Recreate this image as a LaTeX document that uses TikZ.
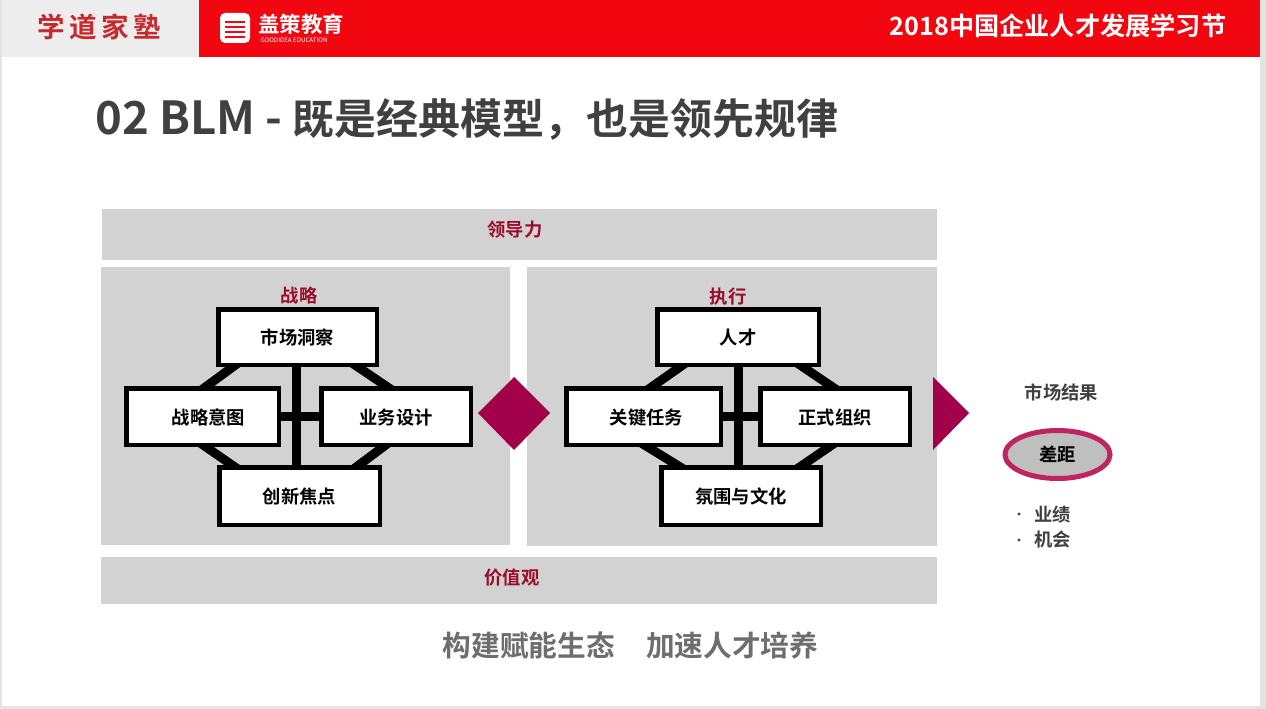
\documentclass[tikz,border=0pt]{standalone}
\usepackage{fontspec}
\setmainfont{Noto Sans CJK SC}[BoldFont={Noto Sans CJK SC Bold}]
\usetikzlibrary{calc, backgrounds, shapes.geometric}

\definecolor{pageColour}{HTML}{E3E3E3}
\definecolor{bannerColour}{HTML}{F2060F}
\definecolor{tabColour}{HTML}{EDEDED}
\definecolor{logoColour}{HTML}{C9282D}
\definecolor{panelColour}{HTML}{D2D2D2}
\definecolor{titleColour}{HTML}{404040}
\definecolor{headColour}{HTML}{9A0C2A}
\definecolor{markColour}{HTML}{A2004A}
\definecolor{ringColour}{HTML}{C0245F}
\definecolor{gapColour}{HTML}{BFBFBF}
\definecolor{sloganColour}{HTML}{6E6E6E}

\tikzset{
    head/.style={font=\bfseries\fontsize{18.3}{18.3}\selectfont, text=headColour, inner sep=0pt},
    itembox/.style={draw=black, fill=white, line width=4.5pt, inner sep=0pt, text depth=0pt, font=\bfseries\fontsize{18.3}{18.3}\selectfont, text=black},
    spoke/.style={line width=9pt, draw=black},
    sidetext/.style={font=\bfseries\fontsize{18.3}{18.3}\selectfont, text=titleColour, inner sep=0pt}
}

\begin{document}
\begin{tikzpicture}[x=1pt, y=-1pt]
    \useasboundingbox (0,0) rectangle (1266,709);

    % Page and panels
    \begin{scope}[on background layer]
        \fill[pageColour] (0,0) rectangle (1266,709);
        \fill[white] (1.5,0) rectangle (1260,706);
        \fill[panelColour] (102,209) rectangle (937,260);
        \fill[panelColour] (101,267) rectangle (510,545);
        \fill[panelColour] (527,267) rectangle (937,546);
        \fill[panelColour] (101,557) rectangle (937,604);
    \end{scope}

    % Banner
    \fill[tabColour] (1.5,0) rectangle (199,57);
    \fill[bannerColour] (199,0) rectangle (1260,57);
    \fill[white, rounded corners=5pt] (220,13) rectangle (250,43);
    \foreach \y in {22,27,32,37}
        \draw[bannerColour, line width=1.6pt] (225,\y) -- (245,\y);

    \node (school) at (99,27) {\bfseries\fontsize{27.5}{27.5}\selectfont\color{logoColour}学\,道\,家\,塾};
    \node (brand) at (301,24.5) {\bfseries\fontsize{21.5}{21.5}\selectfont\color{white}盖策教育};
    \node (brandEn) at (294,40) {\fontsize{6.2}{6.2}\selectfont\color{white}GOODIDEA EDUCATION};
    \node (festival) at (1058,26) {\bfseries\fontsize{25.2}{25.2}\selectfont\color{white}2018中国企业人才发展学习节};

    % Title
    \node[anchor=west, inner sep=0pt] (title) at (95,119) {\bfseries\color{titleColour}\fontsize{45.5}{45.5}\selectfont 02 BLM - \fontsize{42}{42}\selectfont 既是经典模型，也是领先规律};

    \node[head] (leadership) at (515,230) {领导力};
    \node[head] (strategy) at (299,296) {战略};
    \node[head] (execution) at (728,297) {执行};
    \node[head] (values) at (512,578) {价值观};

    % Strategy boxes
    \node[itembox, minimum width=158.5pt, minimum height=55.5pt] (insight) at (297.5,337) {市场洞察};
    \node[itembox, minimum width=152.5pt, minimum height=56.5pt] (intent) at (202.5,416.5) {\hspace*{12pt}战略意图};
    \node[itembox, minimum width=149.5pt, minimum height=56.5pt] (design) at (396,416.5) {业务设计};
    \node[itembox, minimum width=160.5pt, minimum height=57.5pt] (focus) at (299.5,496) {创新焦点};

    % Execution boxes
    \node[itembox, minimum width=161.5pt, minimum height=55.5pt] (talent) at (738,337) {人才};
    \node[itembox, minimum width=154.5pt, minimum height=56.5pt] (task) at (643.5,416.5) {\hspace*{6pt}关键任务};
    \node[itembox, minimum width=149.5pt, minimum height=56.5pt] (organ) at (835,416.5) {正式组织};
    \node[itembox, minimum width=159.5pt, minimum height=57.5pt] (culture) at (741,496) {氛围与文化};

    % Spokes behind the boxes
    \begin{scope}[on background layer]
        \draw[spoke] ($(insight.south west)+(23.5,-5)$) -- ($(intent.north west)+(76,5)$);
        \draw[spoke] ($(insight.south east)+(-28.4,-5)$) -- ($(design.north west)+(74.4,5)$);
        \draw[spoke] ($(intent.south west)+(74.8,-5)$) -- ($(focus.north west)+(22.2,5)$);
        \draw[spoke] ($(design.south west)+(70.7,-5)$) -- ($(focus.north east)+(-29.7,5)$);
        \draw[spoke] (insight.south -| 296.5,0) -- (focus.north -| 296.5,0);
        \draw[spoke] (intent.east) -- (design.west);

        \draw[spoke] ($(talent.south west)+(32.1,-5)$) -- ($(task.north west)+(81.9,5)$);
        \draw[spoke] ($(talent.south east)+(-25.4,-5)$) -- ($(organ.north west)+(80.4,5)$);
        \draw[spoke] ($(task.south west)+(75.6,-5)$) -- ($(culture.north west)+(26.1,5)$);
        \draw[spoke] ($(organ.south west)+(78.3,-5)$) -- ($(culture.north east)+(-27.6,5)$);
        \draw[spoke] (talent.south -| 738,0) -- (culture.north -| 738,0);
        \draw[spoke] (task.east) -- (organ.west);
    \end{scope}

    % Marks between the panels
    \fill[markColour] (478,413) -- (514,377) -- (550,413) -- (514,450) -- cycle;
    \fill[markColour] (933,377) -- (969,413) -- (933,450) -- cycle;

    % Market result
    \node[sidetext] (result) at (1061.5,392) {市场结果};
    \node[ellipse, draw=ringColour, fill=gapColour, line width=5pt, minimum width=105pt, minimum height=48pt, inner sep=0pt, font=\bfseries\fontsize{18.3}{18.3}\selectfont, text=black] (gap) at (1057.5,454.5) {差距};
    \node[sidetext] (perform) at (1052.5,514.5) {业绩};
    \node[sidetext] (chance) at (1052.5,539.5) {机会};
    \fill[titleColour] (1019,514) circle (1.6pt) (1019,540) circle (1.6pt);

    % Slogan
    \node[inner sep=0pt] (slogan) at (630.5,646) {\bfseries\fontsize{28.7}{28.7}\selectfont\color{sloganColour}构建赋能生态\hspace{31pt}加速人才培养};
\end{tikzpicture}
\end{document}
